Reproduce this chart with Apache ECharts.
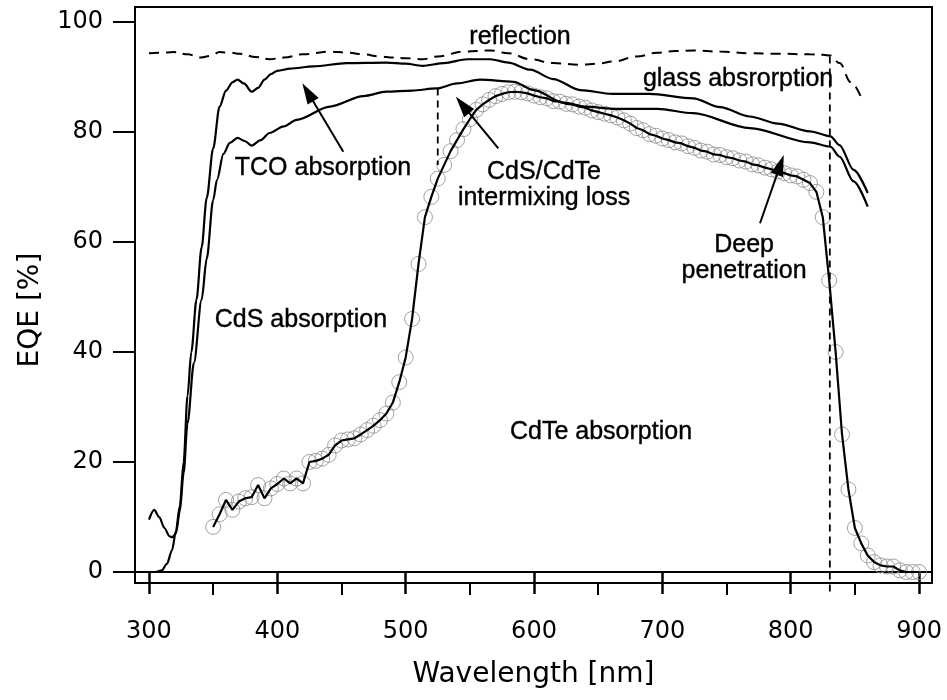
<!DOCTYPE html>
<html>
<head>
<meta charset="utf-8">
<script src="https://cdn.jsdelivr.net/npm/echarts@6/dist/echarts.min.js"></script>
<style>
  html, body { margin: 0; padding: 0; background: #fff; }
  #chart { width: 947px; height: 700px; }
</style>
</head>
<body>
<div id="chart"></div>
<script>
// reflection (dashed)
const reflWl  = [300, 310, 319, 330, 340, 348, 355, 363, 371, 383, 394, 405, 420, 441, 455, 467, 480, 490, 500, 513, 525, 545, 566, 580, 597, 615, 636, 650, 662, 680, 696, 710, 724, 745, 768, 790, 815, 825, 831, 838, 847, 856];
const reflVal = [94.3, 94.4, 94.5, 94.1, 93.5, 93.8, 94.5, 94.4, 94.2, 93.6, 93.2, 93.5, 94.1, 94.6, 94.4, 94.1, 93.7, 93.5, 93.4, 93.2, 93.7, 94.6, 94.8, 94.3, 93.2, 92.5, 92.2, 92.4, 92.8, 93.7, 94.4, 94.7, 94.8, 94.6, 94.3, 94.2, 94.1, 94.0, 93.9, 92.5, 89.0, 85.6];

// upper solid curve (after glass absorption)
const upperWl  = [300, 305, 310, 314, 318, 321, 324, 327, 330, 333, 337, 341, 345, 350, 355, 360, 365, 369, 374, 380, 385, 390, 395, 400, 410, 428, 454, 485, 500, 513, 530, 548, 566, 580, 597, 615, 636, 661, 690, 724, 745, 768, 790, 815, 831, 838, 849, 860];
const upperVal = [0, 0, 0.3, 1.5, 4, 7.5, 12, 20, 32, 40, 49.5, 59, 68, 77, 84.6, 87.5, 89, 89.5, 88.8, 87.3, 88, 89.5, 90.5, 91.1, 91.5, 91.9, 92.5, 92.6, 92.4, 92, 92.5, 93.2, 93.2, 92.6, 91.3, 89.6, 87.6, 86.9, 86.9, 86.1, 84.5, 82.8, 81.5, 80.1, 79.2, 77.6, 73.1, 68.9];

// lower solid curve (after TCO absorption)
const lowerWl  = [300, 304, 308, 312, 316, 318, 321, 324, 327, 330, 335, 341, 345, 350, 353, 358, 363, 369, 375, 380, 387, 394, 405, 415, 441, 467, 485, 505, 524, 540, 558, 584, 600, 623, 640, 661, 696, 724, 768, 815, 831, 838, 849, 860];
const lowerVal = [9.5, 11.3, 10, 8, 6.5, 6.3, 7, 11, 18, 27, 38, 49.5, 57, 67.6, 71.3, 76, 78, 78.9, 78.3, 77.5, 78.5, 79.8, 81, 82.2, 84.6, 86.5, 87.3, 87.5, 87.9, 88.8, 89.5, 89.1, 87.6, 85.3, 84.6, 84.2, 84.2, 83.4, 80.7, 78.1, 77.3, 75.5, 71, 66.4];

// measured CdTe EQE (circles + line)
const eqeWl  = [350, 355, 360, 365, 370, 375, 380, 385, 390, 395, 400, 405, 410, 415, 420, 425, 430, 435, 440, 445, 450, 455, 460, 465, 470, 475, 480, 485, 490, 495, 500, 505, 510, 515, 520, 525, 530, 535, 540, 545, 550, 555, 560, 565, 570, 575, 580, 585, 590, 595, 600, 605, 610, 615, 620, 625, 630, 635, 640, 645, 650, 655, 660, 665, 670, 675, 680, 685, 690, 695, 700, 705, 710, 715, 720, 725, 730, 735, 740, 745, 750, 755, 760, 765, 770, 775, 780, 785, 790, 795, 800, 805, 810, 815, 820, 825, 830, 835, 840, 845, 850, 855, 860, 865, 870, 875, 880, 885, 890, 895, 900];
const eqeVal = [8.2, 10.5, 13.1, 11.3, 12.8, 13.4, 13.6, 15.8, 13.4, 15.2, 16.0, 17.0, 16.1, 17.0, 16.1, 20.0, 20.2, 20.6, 21.3, 23.0, 23.9, 24.1, 24.3, 25.0, 25.8, 26.6, 27.6, 28.8, 30.8, 34.5, 39.0, 46.0, 56.0, 64.5, 68.2, 71.5, 74.0, 76.5, 78.5, 80.5, 82.3, 84.0, 85.0, 85.8, 86.5, 86.9, 87.2, 87.3, 87.2, 87.0, 86.6, 86.3, 86.1, 85.6, 85.5, 85.1, 85.0, 84.6, 84.4, 83.9, 83.6, 83.3, 83.0, 82.6, 82.1, 81.5, 80.7, 80.3, 79.6, 79.3, 78.8, 78.5, 78.1, 77.9, 77.4, 77.1, 76.6, 76.4, 75.9, 75.8, 75.4, 75.2, 74.8, 74.6, 74.1, 73.9, 73.5, 73.2, 72.8, 72.5, 72.1, 71.9, 71.3, 70.7, 69.1, 64.5, 53.0, 40.0, 25.0, 15.0, 8.0, 5.2, 3.0, 1.8, 1.2, 1.0, 1.0, 0.3, 0.0, 0.0, 0.0];

// dashed guide lines
const guide525 = [[525, 87.9], [525, 74]];
const guide830 = [[830.5, 93.7], [830.5, -3.6]];

// axis ticks
const xMajor = [300, 400, 500, 600, 700, 800, 900];
const xMinor = [350, 450, 550, 650, 750, 850];
const yMajor = [0, 20, 40, 60, 80, 100];

// annotation text [wavelength, EQE, text]
const notes = [
  [589.1, 97.3, 'reflection'],
  [759.0, 89.6, 'glass absrorption'],
  [435.6, 73.4, 'TCO absorption'],
  [607.8, 70.4, 'CdS/CdTe\nintermixing loss'],
  [763.7, 57.0, 'Deep\npenetration'],
  [418.4, 45.8, 'CdS absorption'],
  [652.2, 25.4, 'CdTe absorption']
];

// arrows: [tail, head]
const arrows = [
  [[451.4, 76.4], [423.7, 87.2]],
  [[572.2, 77.0], [544.3, 84.9]],
  [[776.1, 63.4], [791.9, 74.0]]
];

const zip = (xs, ys) => xs.map((x, i) => [x, ys[i]]);

const tickFont = { fontFamily: 'DejaVu Sans', fontSize: 24, color: '#000' };
const noteFont = 'Liberation Sans';

const chart = echarts.init(document.getElementById('chart'), null, { renderer: 'canvas' });

chart.setOption({
  animation: false,
  backgroundColor: '#fff',
  grid: {
    left: 135, right: 15, top: 7, bottom: 117,
    show: true, borderColor: '#000', borderWidth: 2
  },
  xAxis: [
    {
      type: 'value', min: 289.1, max: 910.1,
      name: 'Wavelength [nm]', nameLocation: 'middle', nameGap: 78,
      nameTextStyle: { fontFamily: 'DejaVu Sans', fontSize: 28, color: '#000' },
      axisLine: { show: true, lineStyle: { color: '#000', width: 2 } },
      axisTick: { show: true, inside: false, length: 22, customValues: xMajor, lineStyle: { color: '#000', width: 2.5 } },
      axisLabel: Object.assign({ margin: 37, customValues: xMajor }, tickFont),
      splitLine: { show: false }
    },
    {
      type: 'value', min: 289.1, max: 910.1, position: 'bottom',
      axisLine: { show: false },
      axisTick: { show: true, inside: false, length: 12, customValues: xMinor, lineStyle: { color: '#000', width: 2 } },
      axisLabel: { show: false },
      splitLine: { show: false }
    }
  ],
  yAxis: {
    type: 'value', min: -2, max: 102.7,
    name: 'EQE [%]', nameLocation: 'middle', nameGap: 90,
    nameTextStyle: { fontFamily: 'DejaVu Sans', fontSize: 28, color: '#000', padding: [0, 30, 0, 0] },
    axisLine: { show: true, lineStyle: { color: '#000', width: 2 } },
    axisTick: { show: true, inside: false, length: 22, customValues: yMajor, lineStyle: { color: '#000', width: 2 } },
    axisLabel: Object.assign({ margin: 32, customValues: yMajor }, tickFont),
    splitLine: { show: false }
  },
  series: [
    {
      name: 'reflection', type: 'line', data: zip(reflWl, reflVal),
      showSymbol: false, smooth: 0.4, smoothMonotone: 'x',
      lineStyle: { color: '#000', width: 2, type: [10, 7] }, silent: true
    },
    {
      name: 'glass', type: 'line', data: zip(upperWl, upperVal),
      showSymbol: false, smooth: 0.3, smoothMonotone: 'x',
      lineStyle: { color: '#000', width: 2.2 }, silent: true
    },
    {
      name: 'tco', type: 'line', data: zip(lowerWl, lowerVal),
      showSymbol: false, smooth: 0.3, smoothMonotone: 'x',
      lineStyle: { color: '#000', width: 2.2 }, silent: true,
      markLine: {
        silent: true, animation: false,
        symbol: ['none', 'triangle'], symbolSize: [13, 21],
        label: { show: false },
        lineStyle: { color: '#000', width: 2, type: 'solid' },
        data: arrows.map(a => [{ coord: a[0] }, { coord: a[1] }])
      }
    },
    {
      name: 'eqe points', type: 'scatter', data: zip(eqeWl, eqeVal),
      symbol: 'circle', symbolSize: 15, z: 1,
      itemStyle: { color: 'rgba(0,0,0,0)', borderColor: '#8a8a8a', borderWidth: 1 }, silent: true
    },
    {
      name: 'eqe', type: 'line', data: zip(eqeWl, eqeVal), z: 3,
      showSymbol: false, lineStyle: { color: '#000', width: 2.2 }, silent: true
    },
    {
      name: 'g525', type: 'line', data: guide525, showSymbol: false,
      lineStyle: { color: '#000', width: 1.8, type: [7, 5] }, silent: true
    },
    {
      name: 'g830', type: 'line', data: guide830, showSymbol: false, clip: false,
      lineStyle: { color: '#000', width: 1.8, type: [7, 5] }, silent: true
    },
    {
      name: 'notes', type: 'scatter', data: notes, symbolSize: 0, silent: true, z: 5,
      itemStyle: { color: '#000', opacity: 1 },
      label: {
        show: true, position: 'inside', formatter: p => p.data[2],
        fontFamily: noteFont, fontSize: 25, lineHeight: 26, color: '#000', align: 'center',
        textBorderColor: '#000', textBorderWidth: 0.4, opacity: 1
      }
    }
  ]
});
</script>
</body>
</html>
